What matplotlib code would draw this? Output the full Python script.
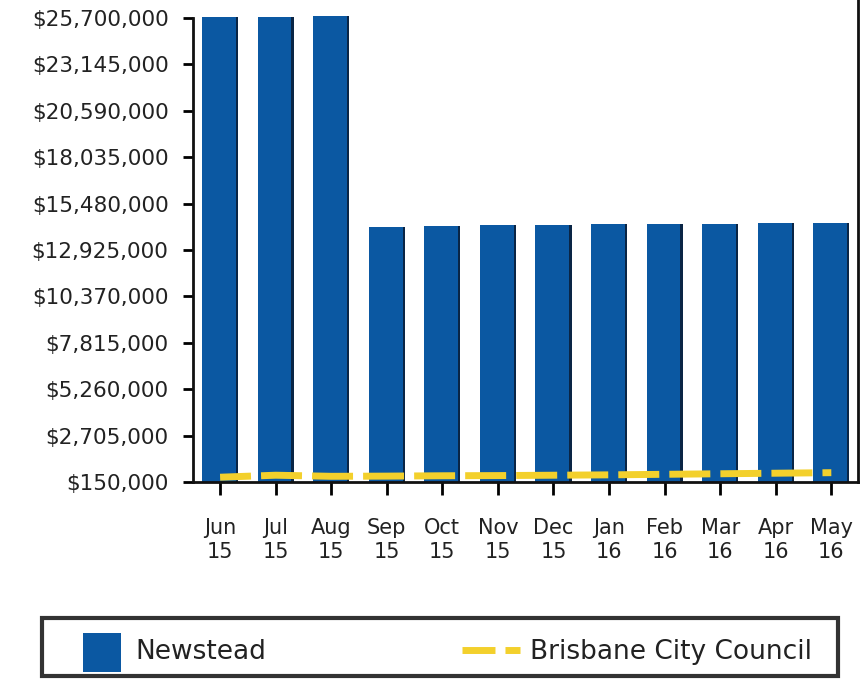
import numpy as np
import matplotlib.pyplot as plt
from matplotlib.patches import Rectangle
from matplotlib.lines import Line2D

# Dữ liệu
months = ['Jun\n15', 'Jul\n15', 'Aug\n15', 'Sep\n15', 'Oct\n15', 'Nov\n15',
          'Dec\n15', 'Jan\n16', 'Feb\n16', 'Mar\n16', 'Apr\n16', 'May\n16']
newstead = [25730000, 25740000, 25800000, 14210000, 14260000, 14280000,
            14320000, 14340000, 14360000, 14370000, 14400000, 14410000]
brisbane = [420000, 530000, 470000, 480000, 500000, 510000,
            530000, 550000, 580000, 610000, 640000, 670000]
y_ticks = [150000, 2705000, 5260000, 7815000, 10370000, 12925000,
           15480000, 18035000, 20590000, 23145000, 25700000]

blue = '#0b58a2'
yellow = '#f3d02c'
W, H = 861, 680

fig = plt.figure(figsize=(W / 100, H / 100), dpi=100)
ax = fig.add_axes([0.224, 0.291, 0.7725, 0.709])

x = np.arange(len(months))
w = 0.65
ax.bar(x, newstead, width=w, color=blue, zorder=2)
# bóng tối bên phải cột
ax.bar(x + w / 2 - 0.02, newstead, width=0.04, color='#0a2545', zorder=2)

ax.plot(x, brisbane, color=yellow, lw=5, linestyle=(1.45, (5.9, 1.45)),
        dash_capstyle='butt', zorder=3)

ax.set_xlim(-0.49, 11.48)
ax.set_ylim(150000, 26690000)
ax.set_yticks(y_ticks)
ax.set_yticklabels([f'${v:,}' for v in y_ticks], fontsize=15.5, color='#222222')
ax.set_xticks(x)
ax.set_xticklabels(months, fontsize=15, color='#222222', linespacing=1.25)

ax.spines['top'].set_visible(False)
ax.spines['left'].set_bounds(150000, 25700000)
for s in ['left', 'bottom', 'right']:
    ax.spines[s].set_linewidth(2)
    ax.spines[s].set_color('#111111')
ax.tick_params(axis='y', length=7.5, width=2, pad=10)
ax.tick_params(axis='x', length=9.5, width=2, pad=16)

# Chú thích (legend) vẽ tay
fig.patches.append(Rectangle((42 / W, 4 / H), 796 / W, 58 / H, transform=fig.transFigure,
                             facecolor='white', edgecolor='#333333', lw=3))
fig.patches.append(Rectangle((83 / W, 8 / H), 38 / W, 39 / H, transform=fig.transFigure,
                             facecolor=blue, edgecolor='none'))
fig.text(135 / W, 28 / H, 'Newstead', fontsize=19, color='#222222', va='center')
fig.lines.append(Line2D([462 / W, 520 / W], [30 / H, 30 / H], transform=fig.transFigure,
                        color=yellow, lw=5, linestyle=(0, (4.75, 1.44)),
                        dash_capstyle='butt'))
fig.text(530 / W, 28 / H, 'Brisbane City Council', fontsize=19, color='#222222', va='center')

fig.savefig('out.png', dpi=100)
